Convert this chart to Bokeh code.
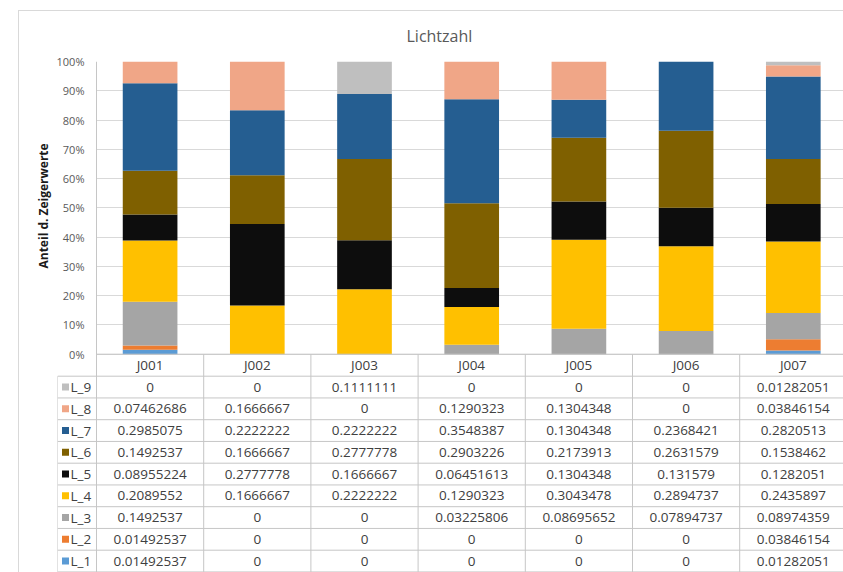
from bokeh.plotting import figure
from bokeh.models import (ColumnDataSource, Range1d, LinearAxis, FixedTicker,
                          NumeralTickFormatter, Grid, Title)
from bokeh.layouts import column
from bokeh.embed import file_html
from bokeh.resources import INLINE
from bokeh.core.properties import value

# ---------------- data ----------------
categories = ["J001", "J002", "J003", "J004", "J005", "J006", "J007"]
series_names = ["L_1", "L_2", "L_3", "L_4", "L_5", "L_6", "L_7", "L_8", "L_9"]
L_1 = [0.01492537, 0, 0, 0, 0, 0, 0.01282051]
L_2 = [0.01492537, 0, 0, 0, 0, 0, 0.03846154]
L_3 = [0.1492537, 0, 0, 0.03225806, 0.08695652, 0.07894737, 0.08974359]
L_4 = [0.2089552, 0.1666667, 0.2222222, 0.1290323, 0.3043478, 0.2894737, 0.2435897]
L_5 = [0.08955224, 0.2777778, 0.1666667, 0.06451613, 0.1304348, 0.131579, 0.1282051]
L_6 = [0.1492537, 0.1666667, 0.2777778, 0.2903226, 0.2173913, 0.2631579, 0.1538462]
L_7 = [0.2985075, 0.2222222, 0.2222222, 0.3548387, 0.1304348, 0.2368421, 0.2820513]
L_8 = [0.07462686, 0.1666667, 0, 0.1290323, 0.1304348, 0, 0.03846154]
L_9 = [0, 0, 0.1111111, 0, 0, 0, 0.01282051]
series_values = [L_1, L_2, L_3, L_4, L_5, L_6, L_7, L_8, L_9]
y_ticks = [0, 0.1, 0.2, 0.3, 0.4, 0.5, 0.6, 0.7, 0.8, 0.9, 1.0]
title_text = "Lichtzahl"
y_label = "Anteil d. Zeigerwerte"

colors = ["#5B9BD5", "#ED7D31", "#A5A5A5", "#FFC000", "#0D0D0D",
          "#7F6000", "#255E91", "#F0A687", "#BFBFBF"]

# ---------------- layout constants (pixels) ----------------
FONT = "Open Sans"
COLW = 107.2                      # px per category column
PXY = 292.7                       # px per 100 %
HEADER_H = 22.0                   # table header row height
ROW_H = 21.75                     # table row height
XMAX = (843 - 96) / COLW          # last column is clipped by the window
XMIN = -(96 - 57) / COLW          # legend column of the data table
YMIN = 1 - (572 - 61) / PXY       # bottom of the window


def row_top(k):
    """top edge (data units) of table row k (k=0 first series row)"""
    return -(HEADER_H + k * ROW_H) / PXY


# ---------------- figure ----------------
xs = [i + 0.5 for i in range(len(categories))]
src = ColumnDataSource(dict(x=xs, **{n: v for n, v in zip(series_names, series_values)}))

p = figure(width=824, height=561, x_range=Range1d(XMIN, XMAX), y_range=Range1d(YMIN, 1),
           x_axis_location=None, y_axis_location=None,
           output_backend="svg", toolbar_location=None,
           min_border_left=38, min_border_right=0, min_border_top=50, min_border_bottom=0,
           outline_line_color=None, title=title_text)
p.xgrid.visible = False
p.ygrid.visible = False
p.title.align = "left"
p.title.offset = 349
p.title.vertical_align = "top"
p.title.standoff = 26
p.title.text_font = FONT
p.title.text_font_size = "16px"
p.title.text_font_style = "normal"
p.title.text_color = "#595959"

ticker = FixedTicker(ticks=y_ticks)
yaxis = LinearAxis(ticker=ticker, formatter=NumeralTickFormatter(format="0%"))
yaxis.axis_line_color = None
yaxis.major_tick_line_color = None
yaxis.minor_tick_line_color = None
yaxis.major_tick_out = 0
yaxis.major_tick_in = 0
yaxis.major_label_text_font = FONT
yaxis.major_label_text_font_size = "11px"
yaxis.major_label_text_color = "#595959"
yaxis.major_label_standoff = -27
p.add_layout(yaxis, "left")

# y-axis title, aligned to the value part of the chart (as in the spreadsheet)
ytitle = Title(text=y_label, align="left", offset=304, standoff=3,
               text_font=FONT, text_font_size="12px", text_font_style="bold",
               text_color="#1a1a1a")
p.add_layout(ytitle, "left")

p.add_layout(Grid(dimension=1, ticker=ticker, grid_line_color="#d9d9d9",
                  cross_bounds=(0, XMAX)))

p.vbar_stack(series_names, x="x", width=0.51, fill_color=colors, line_color=None,
             source=src)

# ---------------- data table ----------------
line_col = "#c6c6c6"
n_rows = len(series_names)
ybot = row_top(n_rows)
# horizontal lines
hy = [0] + [row_top(k) for k in range(n_rows + 1)]
hx0 = [0] + [XMIN] * (n_rows + 1)
p.segment(x0=hx0, y0=hy, x1=[XMAX] * len(hy), y1=hy, line_color=line_col, line_width=1)
# vertical lines
vx = [XMIN, 0] + list(range(1, len(categories) + 1))
vy0 = [row_top(0), 1] + [0] * len(categories)
p.segment(x0=vx, y0=vy0, x1=vx, y1=[ybot] * len(vx), line_color=line_col, line_width=1)

TXT = dict(text_baseline="middle", text_font=value(FONT), text_font_size="13.5px",
           text_color="#404040")
# header
p.text(x=xs, y=[-HEADER_H / 2 / PXY] * len(xs), text=categories, text_align="center", **TXT)

# rows (L_9 at top)
cx, cy, ct = [], [], []
for k, vals in enumerate(reversed(series_values)):
    yc = (row_top(k) + row_top(k + 1)) / 2
    for i, v in enumerate(vals):
        cx.append(i + 0.5)
        cy.append(yc)
        ct.append(f"{v:.7g}")
p.text(x=cx, y=cy, text=ct, text_align="center", **TXT)

# legend keys
ry = [(row_top(k) + row_top(k + 1)) / 2 for k in range(n_rows)]
p.scatter(x=[XMIN + 8 / COLW] * n_rows, y=ry, marker="square", size=7,
          fill_color=list(reversed(colors)), line_color=None)
p.text(x=[XMIN + 13 / COLW] * n_rows, y=ry, text=list(reversed(series_names)),
       text_align="left", **TXT)

layout = column(p, spacing=0, margin=(10, 0, 0, 18),
                styles={"border-left": "1px solid #d9d9d9", "border-top": "1px solid #d9d9d9"})

open("out.html", "w").write(file_html(layout, INLINE))
